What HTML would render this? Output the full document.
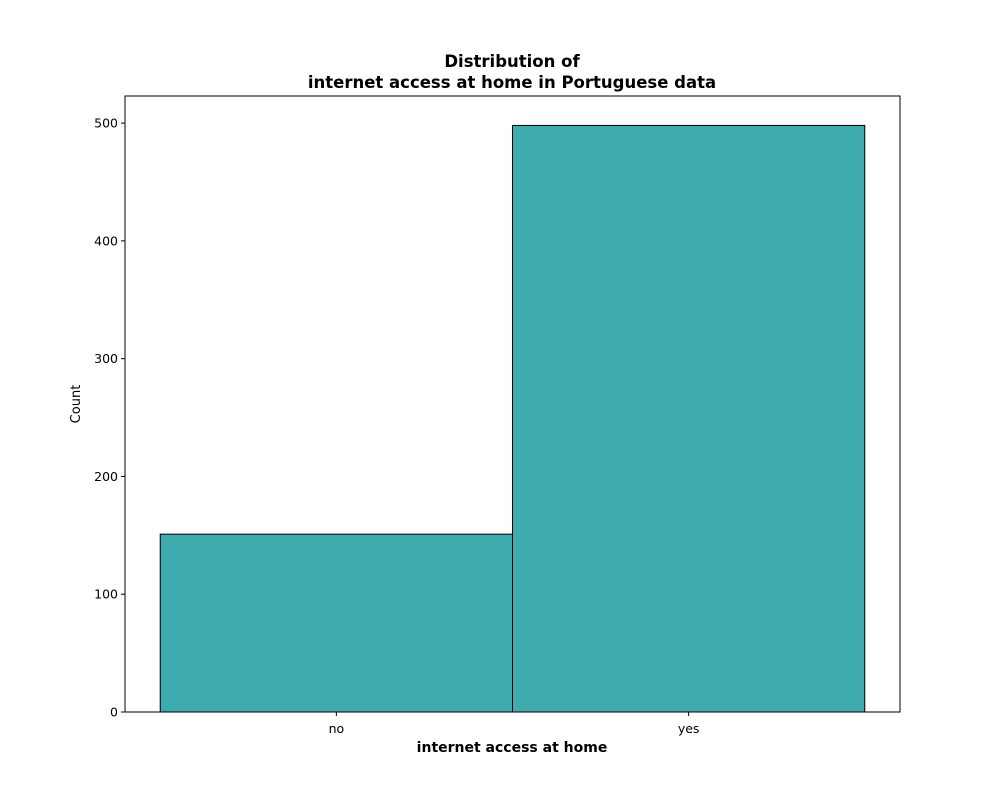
<!DOCTYPE html>
<html>
<head>
<meta charset="utf-8">
<style>
  html, body { margin: 0; padding: 0; background: #fff; }
  svg { display: block; font-family: "DejaVu Sans", "Liberation Sans", sans-serif; }
</style>
</head>
<body>
<svg id="chart" width="1000" height="800" viewBox="0 0 1000 800" xmlns="http://www.w3.org/2000/svg">
  <rect x="0" y="0" width="1000" height="800" fill="#fff"/>
  <text x="512" y="67" text-anchor="middle" font-size="16.5" font-weight="bold">Distribution of</text>
  <text x="512" y="88" text-anchor="middle" font-size="16.5" font-weight="bold">internet access at home in Portuguese data</text>
  <g id="bars"></g>
  <g id="yticks"></g>
  <g id="xticks"></g>
  <rect x="125" y="96" width="775" height="616" fill="none" stroke="#000" stroke-width="1"/>
  <text x="512" y="752" text-anchor="middle" font-size="14" font-weight="bold">internet access at home</text>
  <text x="80" y="404" text-anchor="middle" font-size="13" transform="rotate(-90 80 404)">Count</text>
</svg>
<script>
const categories = ["no", "yes"];
const counts = [151, 498];
const yTicks = [0, 100, 200, 300, 400, 500];

const NS = "http://www.w3.org/2000/svg";
const plotL = 125, plotR = 900, plotT = 96, plotB = 712;
const xMin = -0.6, xMax = 1.6, yMin = 0, yMax = 523;
function xs(v) { return plotL + (v - xMin) / (xMax - xMin) * (plotR - plotL); }
function ys(v) { return plotB - (v - yMin) / (yMax - yMin) * (plotB - plotT); }

const bars = document.getElementById("bars");
categories.forEach((c, i) => {
  const r = document.createElementNS(NS, "rect");
  const x0 = xs(i - 0.5), x1 = xs(i + 0.5);
  r.setAttribute("x", x0);
  r.setAttribute("y", ys(counts[i]));
  r.setAttribute("width", x1 - x0);
  r.setAttribute("height", ys(0) - ys(counts[i]));
  r.setAttribute("fill", "#40abae");
  r.setAttribute("stroke", "#000");
  r.setAttribute("stroke-width", "1");
  
  
  bars.appendChild(r);
});

const yg = document.getElementById("yticks");
yTicks.forEach(t => {
  const y = ys(t);
  const l = document.createElementNS(NS, "line");
  l.setAttribute("x1", plotL - 4); l.setAttribute("x2", plotL);
  l.setAttribute("y1", y); l.setAttribute("y2", y);
  l.setAttribute("stroke", "#000");
  
  
  yg.appendChild(l);
  const tx = document.createElementNS(NS, "text");
  tx.setAttribute("x", plotL - 7); tx.setAttribute("y", y + 4.5);
  tx.setAttribute("text-anchor", "end"); tx.setAttribute("font-size", "12.5");
  tx.textContent = t;
  
  
  yg.appendChild(tx);
});

const xg = document.getElementById("xticks");
categories.forEach((c, i) => {
  const x = xs(i);
  const l = document.createElementNS(NS, "line");
  l.setAttribute("x1", x); l.setAttribute("x2", x);
  l.setAttribute("y1", plotB); l.setAttribute("y2", plotB + 4);
  l.setAttribute("stroke", "#000");
  
  
  xg.appendChild(l);
  const tx = document.createElementNS(NS, "text");
  tx.setAttribute("x", x); tx.setAttribute("y", plotB + 21);
  tx.setAttribute("text-anchor", "middle"); tx.setAttribute("font-size", "12.5");
  tx.textContent = c;
  
  
  xg.appendChild(tx);
});
</script>
</body>
</html>
